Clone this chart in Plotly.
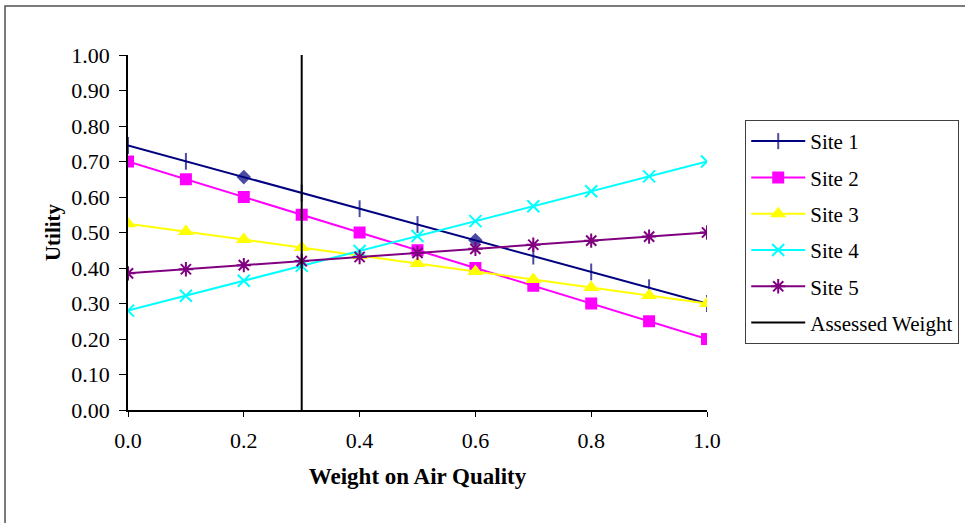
import plotly.graph_objects as go

weights = [0.0, 0.1, 0.2, 0.3, 0.4, 0.5, 0.6, 0.7, 0.8, 0.9, 1.0]
site1 = [0.745, 0.7005, 0.656, 0.6115, 0.567, 0.5225, 0.478, 0.4335, 0.389, 0.3445, 0.30]
site2 = [0.70, 0.65, 0.60, 0.55, 0.50, 0.45, 0.40, 0.35, 0.30, 0.25, 0.20]
site3 = [0.525, 0.5025, 0.48, 0.4575, 0.435, 0.4125, 0.39, 0.3675, 0.345, 0.3225, 0.30]
site4 = [0.28, 0.322, 0.364, 0.406, 0.448, 0.49, 0.532, 0.574, 0.616, 0.658, 0.70]
site5 = [0.385, 0.3965, 0.408, 0.4195, 0.431, 0.4425, 0.454, 0.4655, 0.477, 0.4885, 0.50]
assessed_weight = 0.3
names = ["Site 1", "Site 2", "Site 3", "Site 4", "Site 5", "Assessed Weight"]

FONT = "Liberation Serif, Times New Roman, serif"

s1_symbols = ["line-ns"] * len(weights)
s1_symbols[2] = "diamond"
s1_symbols[6] = "diamond"
s1_sizes = [12] * len(weights)
s1_sizes[2] = 9
s1_sizes[6] = 9

fig = go.Figure()
fig.add_trace(go.Scatter(x=weights, y=site1, name=names[0], mode="lines+markers",
                         line=dict(color="#000080", width=2), legendgroup="1",
                         marker=dict(symbol=s1_symbols, size=s1_sizes, color="#000080",
                                     line=dict(color="#000080", width=2))))
fig.add_trace(go.Scatter(x=weights, y=site2, name=names[1], mode="lines+markers",
                         line=dict(color="#FF00FF", width=2), legendgroup="2",
                         marker=dict(symbol="square", size=12, color="#FF00FF")))
fig.add_trace(go.Scatter(x=weights, y=site3, name=names[2], mode="lines+markers",
                         line=dict(color="#FFFF00", width=2), legendgroup="3",
                         marker=dict(symbol="triangle-up", size=14, color="#FFFF00")))
fig.add_trace(go.Scatter(x=weights, y=site4, name=names[3], mode="lines+markers",
                         line=dict(color="#00FFFF", width=2), legendgroup="4",
                         marker=dict(symbol="x-thin", size=12, color="#00FFFF",
                                     line=dict(color="#00FFFF", width=2))))
fig.add_trace(go.Scatter(x=weights, y=site5, name=names[4], mode="lines+markers",
                         line=dict(color="#800080", width=2), legendgroup="5",
                         marker=dict(symbol="asterisk", size=12, color="#800080",
                                     line=dict(color="#800080", width=2))))
fig.add_trace(go.Scatter(x=[assessed_weight, assessed_weight], y=[0, 1], name=names[5],
                         mode="lines", line=dict(color="black", width=2), legendgroup="6"))

fig.update_layout(
    width=965, height=523,
    margin=dict(l=128, r=258, t=55, b=113, autoexpand=False),
    paper_bgcolor="white", plot_bgcolor="white",
    font=dict(family=FONT, size=21, color="black"),
    showlegend=True,
    legend=dict(x=1.066, y=0.817, xanchor="left", yanchor="top",
                bordercolor="#404040", borderwidth=1, bgcolor="white",
                font=dict(family=FONT, size=21), tracegroupgap=6,
                traceorder="grouped", itemwidth=54),
    xaxis=dict(range=[0, 1], dtick=0.2, tick0=0, tickformat=".1f",
               showgrid=False, zeroline=False, showline=True, linecolor="black",
               linewidth=1.5, ticks="outside", ticklen=5, tickcolor="black",
               ticklabelstandoff=5,
               tickfont=dict(family=FONT, size=22),
               title=dict(text="<b>Weight on Air Quality</b>", standoff=16,
                          font=dict(family=FONT, size=23))),
    yaxis=dict(range=[0, 1], dtick=0.1, tick0=0, tickformat=".2f",
               showgrid=False, zeroline=False, showline=True, linecolor="black",
               linewidth=1.5, ticks="outside", ticklen=7, tickcolor="black",
               ticklabelstandoff=5,
               tickfont=dict(family=FONT, size=22),
               title=dict(text="<b>Utility</b>", standoff=5,
                          font=dict(family=FONT, size=21))),
    shapes=[dict(type="rect", xref="paper", yref="paper",
                 x0=-0.2124, x1=2.0, y0=-1.0, y1=1.138,
                 line=dict(color="#505050", width=1.5), fillcolor="rgba(0,0,0,0)",
                 layer="below")],
)

fig.write_html("out.html")
